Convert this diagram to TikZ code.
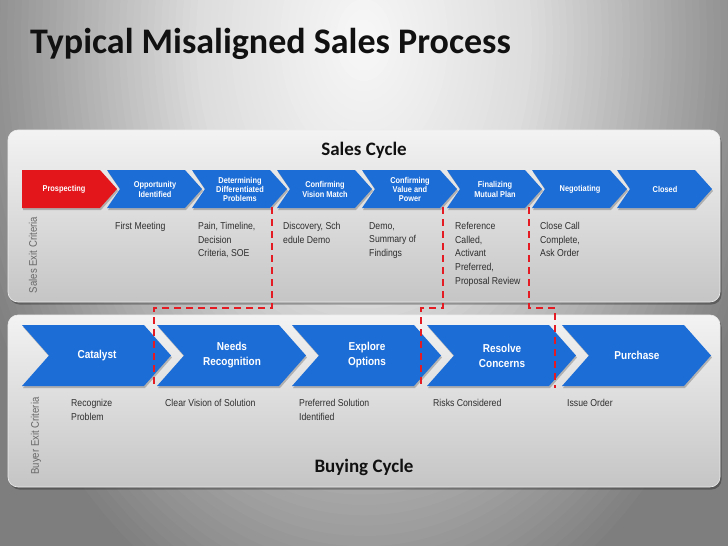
\documentclass[tikz,border=0pt]{standalone}
\usepackage{fontspec}
\setmainfont{Carlito}
\newfontfamily\arialn[FakeStretch=0.87]{Liberation Sans}
\definecolor{bgA}{HTML}{F8F8F8}
\definecolor{bgB}{HTML}{DDDDDD}
\definecolor{bgC}{HTML}{7E7E7E}
\definecolor{panTop}{HTML}{F3F3F3}
\definecolor{panBot}{HTML}{C5C5C5}
\definecolor{blueT}{HTML}{62B0F4}
\definecolor{blueM}{HTML}{1D6DD6}
\definecolor{blueB}{HTML}{1254AE}
\definecolor{redT}{HTML}{F46A6E}
\definecolor{redM}{HTML}{E3161C}
\definecolor{redB}{HTML}{B80E12}
\definecolor{dashred}{HTML}{E41B22}
\definecolor{bodytxt}{HTML}{2E2E2E}
\definecolor{sidetxt}{HTML}{686868}
\definecolor{titlec}{HTML}{111111}
\pgfdeclareverticalshading{chevblue}{100bp}{color(0bp)=(blueB); color(25bp)=(blueM); color(78bp)=(blueM); color(100bp)=(blueT)}
\pgfdeclareverticalshading{chevred}{100bp}{color(0bp)=(redB); color(25bp)=(redM); color(78bp)=(redM); color(100bp)=(redT)}
\begin{document}
\begin{tikzpicture}[x=1pt,y=-1pt,
  panelshadow/.style={fill=black, opacity=.3, rounded corners=10pt},
  panel/.style={top color=panTop, bottom color=panBot, draw=white!85!gray, line width=.6pt, rounded corners=10pt},
  chevshadow/.style={fill=black, opacity=.22},
  bluechev/.style={shading=chevblue},
  redchev/.style={shading=chevred},
  uplabel/.style={text=white, align=center, inner sep=0, font=\arialn\bfseries\fontsize{8.5}{9.2}\selectfont},
  lowlabel/.style={text=white, align=center, inner sep=0, font=\arialn\bfseries\fontsize{11.5}{15}\selectfont},
  crit/.style={anchor=north west, inner sep=0, align=left, text=bodytxt, font=\arialn\fontsize{10}{13.7}\selectfont},
  sidelab/.style={rotate=90, inner sep=0, text=sidetxt, font=\arialn\fontsize{11}{13}\selectfont},
  cyclelab/.style={inner sep=0, text=titlec, font=\bfseries\fontsize{19}{22}\selectfont},
  reddash/.style={draw=dashred, line width=2.6pt, dash pattern=on 7pt off 5pt}]
\useasboundingbox (0,0) rectangle (728,546);
% background
\fill[bgC] (0,0) rectangle (728,546);
\begin{scope}
\clip (0,0) rectangle (728,546);
\foreach \k in {0,...,59}{
  \pgfmathsetmacro\f{1-\k/60}
  \pgfmathsetmacro\p{\f>=0.4 ? (1-\f)/0.6*100 : 0}
  \pgfmathsetmacro\q{\f<0.4 ? (0.4-\f)/0.4*100 : 0}
  \colorlet{bgtmp}{bgB!\p!bgC}
  \ifdim\f pt<0.4pt \colorlet{bgtmp}{bgA!\q!bgB}\fi
  \fill[bgtmp] (364,40) ellipse [x radius=\f*420pt, y radius=\f*620pt];
}
\end{scope}
% title
\node[anchor=base west, inner sep=0, text=titlec, font=\bfseries\fontsize{36}{40}\selectfont] (title) at (30,53) {Typical Misaligned Sales Process};
% panels
\fill[panelshadow] (9.5,132.5) rectangle (721.5,304.5);
\shade[panel] (8,130) rectangle (720,302);
\fill[panelshadow] (9.5,317.5) rectangle (721.5,489.5);
\shade[panel] (8,315) rectangle (720,487);
\node[cyclelab] (sc) at (364,150) {Sales Cycle};
\node[cyclelab] (bc) at (364,467) {Buying Cycle};
\node[sidelab] (sec) at (33,255) {Sales Exit Criteria};
\node[sidelab] (bec) at (36,436) {Buyer Exit Criteria};
% upper chevrons
\fill[chevshadow] (23,172) -- (101,172) -- (118,191) -- (101,210) -- (23,210) -- cycle;
\shade[redchev] (22,170) -- (100,170) -- (117,189) -- (100,208) -- (22,208) -- cycle;
\node[uplabel] (s0) at (64,189.5) {Prospecting};
\foreach \i/\txt in {1/{Opportunity\\Identified}, 2/{Determining\\Differentiated\\Problems}, 3/{Confirming\\Vision Match}, 4/{Confirming\\Value and\\Power}, 5/{Finalizing\\Mutual Plan}, 6/{Negotiating}, 7/{Closed}}{
  \pgfmathsetmacro\xa{107+85*(\i-1)}
  \pgfmathsetmacro\xb{\xa+78}
  \pgfmathsetmacro\xc{\xa+95}
  \pgfmathsetmacro\xn{\xa+13}
  \pgfmathsetmacro\xt{\xa+48}
  \fill[chevshadow] (\xa+1,172) -- (\xb+1,172) -- (\xc+1,191) -- (\xb+1,210) -- (\xa+1,210) -- (\xn+1,191) -- cycle;
  \shade[bluechev] (\xa,170) -- (\xb,170) -- (\xc,189) -- (\xb,208) -- (\xa,208) -- (\xn,189) -- cycle;
  \node[uplabel] (s\i) at (\xt,189.5) {\txt};
}
% lower chevrons
\foreach \i/\txt in {0/{Catalyst}, 1/{Needs\\Recognition}, 2/{Explore\\Options}, 3/{Resolve\\Concerns}, 4/{Purchase}}{
  \pgfmathsetmacro\xa{22+135*\i}
  \pgfmathsetmacro\xb{\xa+122}
  \pgfmathsetmacro\xc{\xa+149}
  \pgfmathsetmacro\xn{\xa+27}
  \pgfmathsetmacro\xt{\xa+75}
  \fill[chevshadow] (\xa+1,327) -- (\xb+1,327) -- (\xc+1,357.5) -- (\xb+1,388) -- (\xa+1,388) -- (\xn+1,357.5) -- cycle;
  \shade[bluechev] (\xa,325) -- (\xb,325) -- (\xc,355.5) -- (\xb,386) -- (\xa,386) -- (\xn,355.5) -- cycle;
  \node[lowlabel] (b\i) at (\xt,355.5) {\txt};
}
% sales exit criteria
\node[crit] (c1) at (115,222) {First Meeting};
\node[crit] (c2) at (198,222) {Pain, Timeline,\\Decision\\Criteria, SOE};
\node[crit] (c3) at (283,222) {Discovery, Sch\\edule Demo};
\node[crit] (c4) at (369,222) {Demo,\\Summary of\\Findings};
\node[crit] (c5) at (455,222) {Reference\\Called,\\Activant\\Preferred,\\Proposal Review};
\node[crit] (c6) at (540,222) {Close Call\\Complete,\\Ask Order};
% buyer exit criteria
\node[crit] (d1) at (71,399) {Recognize\\Problem};
\node[crit] (d2) at (165,399) {Clear Vision of Solution};
\node[crit] (d3) at (299,399) {Preferred Solution\\Identified};
\node[crit] (d4) at (433,399) {Risks Considered};
\node[crit] (d5) at (567,399) {Issue Order};
% misalignment lines
\coordinate (m1a) at (272,207);
\coordinate (m1b) at (272,308);
\coordinate (m1c) at (154,308);
\coordinate (m1d) at (154,388);
\coordinate (m2a) at (443,207);
\coordinate (m2b) at (443,308);
\coordinate (m2c) at (421,308);
\coordinate (m2d) at (421,388);
\coordinate (m3a) at (529,207);
\coordinate (m3b) at (529,308);
\coordinate (m3c) at (555,308);
\coordinate (m3d) at (555,388);
\draw[reddash] (m1a) -- (m1b) -- (m1c) -- (m1d);
\draw[reddash] (m2a) -- (m2b) -- (m2c) -- (m2d);
\draw[reddash] (m3a) -- (m3b) -- (m3c) -- (m3d);
\end{tikzpicture}
\end{document}
